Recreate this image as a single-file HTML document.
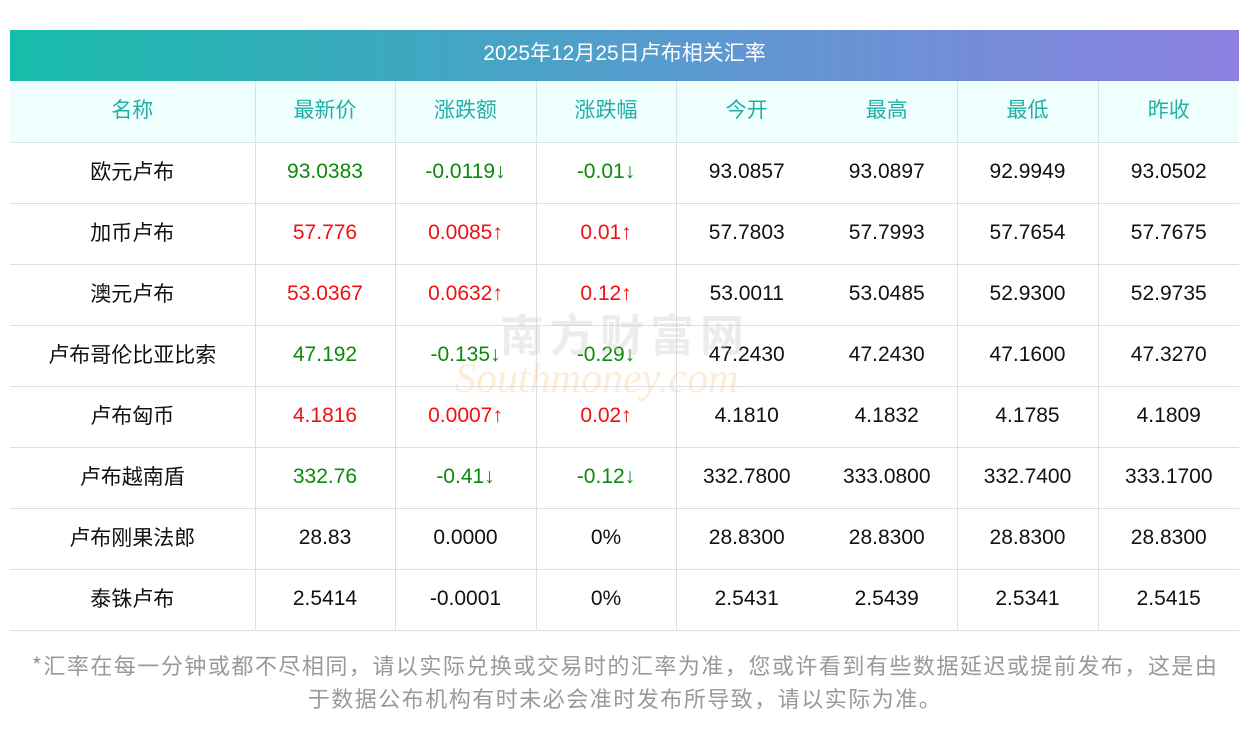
<!DOCTYPE html>
<html><head><meta charset="utf-8"><style>
body{margin:0;width:1250px;height:733px;background:#fff;font-family:"Liberation Sans","Noto Sans CJK SC",sans-serif;position:relative;overflow:hidden}
.bar{position:absolute;left:10px;top:30px;width:1229px;height:51px;background:linear-gradient(90deg,#17bcaa,#5a9ad0 55%,#8c80e0);color:#fff;font-size:21px;text-align:center;line-height:47px}
table{position:absolute;left:10px;top:81px;border-collapse:collapse;table-layout:fixed;width:1229px}
td{height:61px;border-bottom:1px solid #dcdfe8;text-align:center;font-size:21px;color:#111;padding:0 0 2px 0;box-sizing:border-box}
td.n{padding:0 0 3px 0}
tr.h td{background:#effffe;color:#22b0a6;height:61px;padding:0 0 4px 0}
.vl{border-right:1px solid #dcdfe8}
.g{color:#0a8a0a}.r{color:#f01010}
.foot{position:absolute;left:0;width:1250px;top:649px;text-align:center;color:#999;font-size:22px;letter-spacing:1.5px;line-height:33px;font-family:"Noto Sans CJK SC",sans-serif}
.wm{position:absolute;left:500px;top:300px;font-size:44px;color:rgba(200,200,200,.35);font-weight:bold;letter-spacing:6px}
.wm2{position:absolute;left:455px;top:355px;font-size:42px;color:rgba(250,200,140,.35);font-style:italic;font-family:"Liberation Serif",serif}
</style></head><body>
<div class="bar">2025年12月25日卢布相关汇率</div>
<table>
<col style="width:245px"><col style="width:140px"><col style="width:141px"><col style="width:140px"><col style="width:141px"><col style="width:140px"><col style="width:141px"><col style="width:141px">
<tr class="h"><td class="vl">名称</td><td class="vl">最新价</td><td class="vl">涨跌额</td><td class="vl">涨跌幅</td><td>今开</td><td class="vl">最高</td><td class="vl">最低</td><td>昨收</td></tr>
<tr><td class="vl n">欧元卢布</td><td class="vl g">93.0383</td><td class="vl g">-0.0119↓</td><td class="vl g">-0.01↓</td><td>93.0857</td><td class="vl">93.0897</td><td class="vl">92.9949</td><td>93.0502</td></tr>
<tr><td class="vl n">加币卢布</td><td class="vl r">57.776</td><td class="vl r">0.0085↑</td><td class="vl r">0.01↑</td><td>57.7803</td><td class="vl">57.7993</td><td class="vl">57.7654</td><td>57.7675</td></tr>
<tr><td class="vl n">澳元卢布</td><td class="vl r">53.0367</td><td class="vl r">0.0632↑</td><td class="vl r">0.12↑</td><td>53.0011</td><td class="vl">53.0485</td><td class="vl">52.9300</td><td>52.9735</td></tr>
<tr><td class="vl n">卢布哥伦比亚比索</td><td class="vl g">47.192</td><td class="vl g">-0.135↓</td><td class="vl g">-0.29↓</td><td>47.2430</td><td class="vl">47.2430</td><td class="vl">47.1600</td><td>47.3270</td></tr>
<tr><td class="vl n">卢布匈币</td><td class="vl r">4.1816</td><td class="vl r">0.0007↑</td><td class="vl r">0.02↑</td><td>4.1810</td><td class="vl">4.1832</td><td class="vl">4.1785</td><td>4.1809</td></tr>
<tr><td class="vl n">卢布越南盾</td><td class="vl g">332.76</td><td class="vl g">-0.41↓</td><td class="vl g">-0.12↓</td><td>332.7800</td><td class="vl">333.0800</td><td class="vl">332.7400</td><td>333.1700</td></tr>
<tr><td class="vl n">卢布刚果法郎</td><td class="vl">28.83</td><td class="vl">0.0000</td><td class="vl">0%</td><td>28.8300</td><td class="vl">28.8300</td><td class="vl">28.8300</td><td>28.8300</td></tr>
<tr><td class="vl n">泰铢卢布</td><td class="vl">2.5414</td><td class="vl">-0.0001</td><td class="vl">0%</td><td>2.5431</td><td class="vl">2.5439</td><td class="vl">2.5341</td><td>2.5415</td></tr>
</table>
<div class="wm">南方财富网</div>
<div class="wm2">Southmoney.com</div>
<div class="foot">*汇率在每一分钟或都不尽相同，请以实际兑换或交易时的汇率为准，您或许看到有些数据延迟或提前发布，这是由<br>于数据公布机构有时未必会准时发布所导致，请以实际为准。</div>
</body></html>
